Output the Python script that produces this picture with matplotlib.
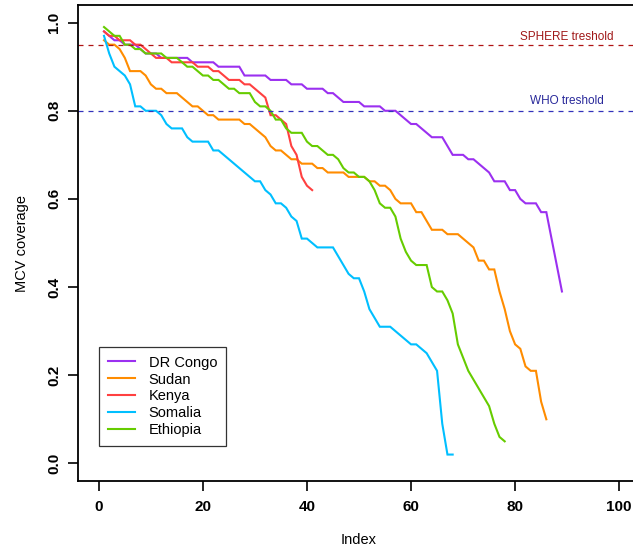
# -*- coding: utf-8 -*-
"""
MCV coverage curves by country, with SPHERE / WHO thresholds
"""
import numpy as np
import matplotlib
matplotlib.use('Agg')
import matplotlib.pyplot as plt

matplotlib.rcParams['font.family'] = ['Liberation Sans', 'DejaVu Sans']
matplotlib.rcParams['axes.unicode_minus'] = False

# sorted coverage per country (one value per index)
drc = [0.98, 0.97, 0.96, 0.96, 0.95, 0.95, 0.95, 0.94, 0.93, 0.93,
       0.93, 0.92, 0.92, 0.92, 0.92, 0.92, 0.92, 0.91, 0.91, 0.91,
       0.91, 0.91, 0.90, 0.90, 0.90, 0.90, 0.90, 0.88, 0.88, 0.88,
       0.88, 0.88, 0.87, 0.87, 0.87, 0.87, 0.86, 0.86, 0.86, 0.85,
       0.85, 0.85, 0.85, 0.84, 0.84, 0.83, 0.82, 0.82, 0.82, 0.82,
       0.81, 0.81, 0.81, 0.81, 0.80, 0.80, 0.80, 0.79, 0.78, 0.77,
       0.77, 0.76, 0.75, 0.74, 0.74, 0.74, 0.72, 0.70, 0.70, 0.70,
       0.69, 0.69, 0.68, 0.67, 0.66, 0.64, 0.64, 0.64, 0.62, 0.62,
       0.60, 0.59, 0.59, 0.59, 0.57, 0.57, 0.51, 0.45, 0.39]
sudan = [0.96, 0.95, 0.95, 0.94, 0.92, 0.89, 0.89, 0.89, 0.88, 0.86,
         0.85, 0.85, 0.84, 0.84, 0.84, 0.83, 0.82, 0.81, 0.81, 0.80,
         0.79, 0.79, 0.78, 0.78, 0.78, 0.78, 0.78, 0.77, 0.77, 0.76,
         0.75, 0.74, 0.72, 0.71, 0.71, 0.70, 0.69, 0.69, 0.68, 0.68,
         0.68, 0.67, 0.67, 0.66, 0.66, 0.66, 0.66, 0.65, 0.65, 0.65,
         0.65, 0.64, 0.64, 0.63, 0.63, 0.62, 0.60, 0.59, 0.59, 0.59,
         0.57, 0.57, 0.55, 0.53, 0.53, 0.53, 0.52, 0.52, 0.52, 0.51,
         0.50, 0.49, 0.46, 0.46, 0.44, 0.44, 0.39, 0.35, 0.30, 0.27,
         0.26, 0.22, 0.21, 0.21, 0.14, 0.10]
kenya = [0.98, 0.97, 0.97, 0.96, 0.96, 0.96, 0.95, 0.95, 0.94, 0.93,
         0.92, 0.92, 0.92, 0.91, 0.91, 0.91, 0.91, 0.91, 0.90, 0.90,
         0.90, 0.89, 0.89, 0.88, 0.87, 0.87, 0.87, 0.86, 0.86, 0.85,
         0.84, 0.83, 0.79, 0.79, 0.78, 0.77, 0.72, 0.70, 0.65, 0.63,
         0.62]
somalia = [0.97, 0.93, 0.90, 0.89, 0.88, 0.86, 0.81, 0.81, 0.80, 0.80,
           0.80, 0.79, 0.77, 0.76, 0.76, 0.76, 0.74, 0.73, 0.73, 0.73,
           0.73, 0.71, 0.71, 0.70, 0.69, 0.68, 0.67, 0.66, 0.65, 0.64,
           0.64, 0.62, 0.61, 0.59, 0.59, 0.58, 0.56, 0.55, 0.51, 0.51,
           0.50, 0.49, 0.49, 0.49, 0.49, 0.47, 0.45, 0.43, 0.42, 0.42,
           0.39, 0.35, 0.33, 0.31, 0.31, 0.31, 0.30, 0.29, 0.28, 0.27,
           0.27, 0.26, 0.25, 0.23, 0.21, 0.09, 0.02, 0.02]
ethiopia = [0.99, 0.98, 0.97, 0.97, 0.95, 0.95, 0.94, 0.94, 0.93, 0.93,
            0.93, 0.93, 0.92, 0.92, 0.92, 0.91, 0.90, 0.90, 0.89, 0.88,
            0.88, 0.87, 0.87, 0.86, 0.85, 0.85, 0.84, 0.84, 0.84, 0.82,
            0.81, 0.81, 0.80, 0.78, 0.78, 0.76, 0.75, 0.75, 0.75, 0.73,
            0.72, 0.72, 0.71, 0.70, 0.70, 0.69, 0.67, 0.66, 0.66, 0.65,
            0.65, 0.64, 0.62, 0.59, 0.58, 0.58, 0.56, 0.51, 0.48, 0.46,
            0.45, 0.45, 0.45, 0.40, 0.39, 0.39, 0.37, 0.34, 0.27, 0.24,
            0.21, 0.19, 0.17, 0.15, 0.13, 0.09, 0.06, 0.05]

countries = ['DR Congo', 'Sudan', 'Kenya', 'Somalia', 'Ethiopia']
series = [drc, sudan, kenya, somalia, ethiopia]
colors = ['#9B30F0', '#FF8C00', '#FF4040', '#00BFFF', '#66CC00']

sphere_level = 0.95
who_level = 0.80

fig = plt.figure(figsize=(6.33, 5.51), dpi=100)
# plot region runs a little past the right edge of the picture
ax = fig.add_axes([78 / 633., 1 - 481 / 551., 562 / 633., 476 / 551.])

for name, vals, col in zip(countries, series, colors):
    idx = np.arange(1, len(vals) + 1)
    ax.plot(idx, vals, color=col, lw=1.5, label=name, solid_joinstyle='miter')

ax.axhline(sphere_level, color='#B01515', lw=0.9, ls=(0, (4, 4)))
ax.axhline(who_level, color='#3333BB', lw=0.9, ls=(0, (4, 4)))
ax.text(90, 0.968, 'SPHERE treshold', color='#A01818', fontsize=8.5,
        ha='center', va='center')
ax.text(90, 0.822, 'WHO treshold', color='#28289A', fontsize=8.5,
        ha='center', va='center')

ax.set_xlim(-4, 104)
ax.set_ylim(-0.04, 1.04)
ax.set_xticks([0, 20, 40, 60, 80, 100])
ax.set_yticks([0.0, 0.2, 0.4, 0.6, 0.8, 1.0])
ax.set_yticklabels(['0.0', '0.2', '0.4', '0.6', '0.8', '1.0'],
                   rotation=90, va='center')
for lab in ax.get_xticklabels() + ax.get_yticklabels():
    lab.set_fontweight('bold')
ax.tick_params(axis='both', direction='out', length=7, width=1.2,
               labelsize=11)
ax.tick_params(axis='x', pad=7)
ax.tick_params(axis='y', pad=5)
for sp in ax.spines.values():
    sp.set_linewidth(1.3)

ax.set_xlabel('Index', fontsize=10.5, labelpad=13)
ax.set_ylabel('MCV coverage', fontsize=10.5, labelpad=13)

leg = ax.legend(loc='lower left', bbox_to_anchor=(0.0374, 0.0735),
                borderaxespad=0, fancybox=False, fontsize=10.5,
                handlelength=1.9, handletextpad=0.9, labelspacing=0.2,
                borderpad=0.6)
leg.get_frame().set_edgecolor('black')
leg.get_frame().set_linewidth(0.9)
for line in leg.get_lines():
    line.set_linewidth(1.5)

fig.savefig('out.png', dpi=100)
